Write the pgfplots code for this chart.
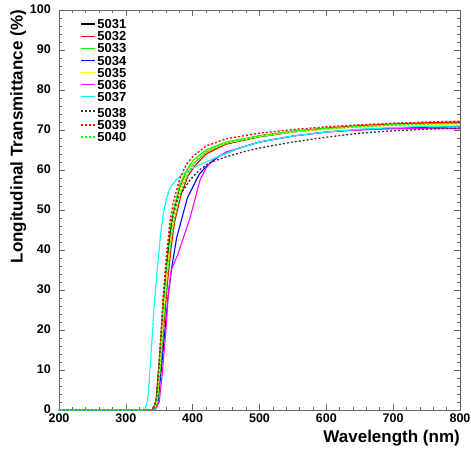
\documentclass[border=0pt]{standalone}
\usepackage{fontspec}
\setmainfont{Liberation Sans}
\usepackage{pgfplots}
\pgfplotsset{compat=1.18}
\definecolor{rootred}{RGB}{255,0,0}
\definecolor{rootgreen}{RGB}{0,255,0}
\definecolor{rootblue}{RGB}{0,0,255}
\definecolor{rootyellow}{RGB}{255,255,0}
\definecolor{rootmagenta}{RGB}{255,0,255}
\definecolor{rootcyan}{RGB}{0,255,255}

\begin{document}
\begin{tikzpicture}
\begin{axis}[
  scale only axis,
  width=401pt, height=400pt,
  xmin=200, xmax=800, ymin=0, ymax=100,
  xtick={200,300,...,800}, ytick={0,10,...,100},
  minor x tick num=4, minor y tick num=4,
  tick align=inside,
  major tick length=6pt, minor tick length=3pt,
  axis line style={gray!80!black, line width=0.8pt},
  every tick/.style={gray!80!black, line width=0.6pt},
  /pgf/number format/assume math mode=true,
  ticklabel style={font=\bfseries\fontsize{12.5}{12.5}\selectfont, inner sep=0pt},
  yticklabel style={xshift=-8pt, yshift=0.5pt},
  xticklabel style={yshift=-4pt},
  xlabel={Wavelength (nm)},
  ylabel={Longitudinal Transmittance (\%)},
  label style={font=\bfseries\fontsize{17}{17}\selectfont},
  xlabel style={at={(axis description cs:1,-0.05)}, anchor=north east, inner sep=0pt},
  ylabel style={at={(axis description cs:-0.122,1)}, anchor=north east, inner sep=0pt},
  legend style={draw=none, fill=none, at={(0.045,0.985)}, anchor=north west,
    font=\bfseries\fontsize{13}{13}\selectfont, row sep=0pt,
    nodes={inner sep=1.5pt, text depth=0pt}},
  legend cell align=left,
  legend image code/.code={\draw[#1, line width=1.6pt] (0pt,0pt) -- (14pt,0pt);},
  every axis plot/.append style={line width=1.1pt},
  dotline/.style={dash pattern=on 2pt off 2pt, line width=1.3pt},
]
% 5031
\addplot[black] coordinates {(200,0)(340,0)(345,2)(350,12)(355,24)(360,34)(365,42)(370,48)(380,55)(390,59)(400,61.5)(420,64.5)(450,66.5)(500,68.3)(550,69.5)(600,70.3)(650,70.9)(700,71.3)(750,71.6)(800,71.8)};
\addlegendentry{\rule{0pt}{9pt}5031}
% 5032
\addplot[rootred] coordinates {(200,0)(342,0)(348,2)(353,12)(358,23)(363,33)(368,41)(373,47)(383,54)(393,58.5)(403,61)(420,64)(450,66.5)(500,68.5)(550,69.7)(600,70.5)(650,71.1)(700,71.5)(750,71.8)(800,72.0)};
\addlegendentry{\rule{0pt}{9pt}5032}
% 5033
\addplot[rootgreen] coordinates {(200,0)(341,0)(346,3)(351,14)(356,27)(361,37)(366,45)(371,50)(381,56.5)(391,60)(401,62.5)(420,65)(450,67)(500,68.6)(550,69.7)(600,70.4)(650,70.9)(700,71.3)(750,71.5)(800,71.6)};
\addlegendentry{\rule{0pt}{9pt}5033}
% 5034
\addplot[rootblue] coordinates {(200,0)(342,0)(348,2)(353,10)(358,19)(363,28)(369,36)(376,43)(384,48)(392,53)(401,56)(410,59)(421,61)(440,63.5)(470,65.5)(500,67)(550,68.5)(600,69.5)(650,70.1)(700,70.5)(750,70.7)(800,70.8)};
\addlegendentry{\rule{0pt}{9pt}5034}
% 5035
\addplot[rootyellow] coordinates {(200,0)(342,0)(347,2)(352,12)(357,25)(362,35)(367,43)(372,49)(382,55.5)(392,59.5)(402,62)(420,64.5)(450,66.7)(500,68.4)(550,69.5)(600,70.2)(650,70.8)(700,71.2)(750,71.4)(800,71.5)};
\addlegendentry{\rule{0pt}{9pt}5035}
% 5036
\addplot[rootmagenta] coordinates {(200,0)(344,0)(350,2)(355,10)(360,20)(364,30)(368,35)(373,37)(378,39)(386,43)(396,48)(404,53)(411,57.5)(420,60.5)(430,62.5)(450,64.5)(500,67)(550,68.5)(600,69.5)(650,70)(700,70.3)(750,70.4)(800,70.3)};
\addlegendentry{\rule{0pt}{9pt}5036}
% 5037
\addplot[rootcyan] coordinates {(200,0)(329,0)(333,3)(337,12)(342,25)(347,35)(352,44)(356,49)(361,53)(366,55.5)(375,57.5)(385,59)(400,60.5)(420,62)(440,63.5)(470,65.5)(500,67)(550,68.5)(600,69.5)(650,70.2)(700,70.6)(750,70.9)(800,71.0)};
\addlegendentry{\rule{0pt}{9pt}5037}
% 5038
\addplot[black!80, dotline] coordinates {(200,0)(341,0)(346,3)(351,14)(356,27)(361,37)(366,44)(371,49)(378,53)(386,55)(396,57.5)(410,60)(425,61.8)(450,63.3)(475,64.5)(500,65.5)(550,67)(600,68.2)(650,69.2)(700,69.8)(750,70.2)(800,70.5)};
\addlegendentry{\rule{0pt}{13pt}5038}
% 5039
\addplot[rootred, dotline] coordinates {(200,0)(341,0)(346,3)(351,15)(356,29)(361,39)(366,47)(371,52)(381,58)(391,61.5)(401,63.5)(420,66)(450,67.8)(500,69.2)(550,70.1)(600,70.8)(650,71.3)(700,71.7)(750,72)(800,72.2)};
\addlegendentry{\rule{0pt}{9pt}5039}
% 5040
\addplot[rootgreen, dotline] coordinates {(200,0)(343,0)(348,3)(353,13)(358,25)(363,35)(368,43)(373,48)(383,55)(393,59)(403,61.8)(420,64.5)(450,66.7)(500,68.5)(550,69.6)(600,70.3)(650,70.8)(700,71.2)(750,71.5)(800,71.7)};
\addlegendentry{\rule{0pt}{9pt}5040}
\end{axis}
\pgfresetboundingbox
\path[use as bounding box] (-59pt,-40pt) rectangle (412pt,410pt);
\end{tikzpicture}
\end{document}
